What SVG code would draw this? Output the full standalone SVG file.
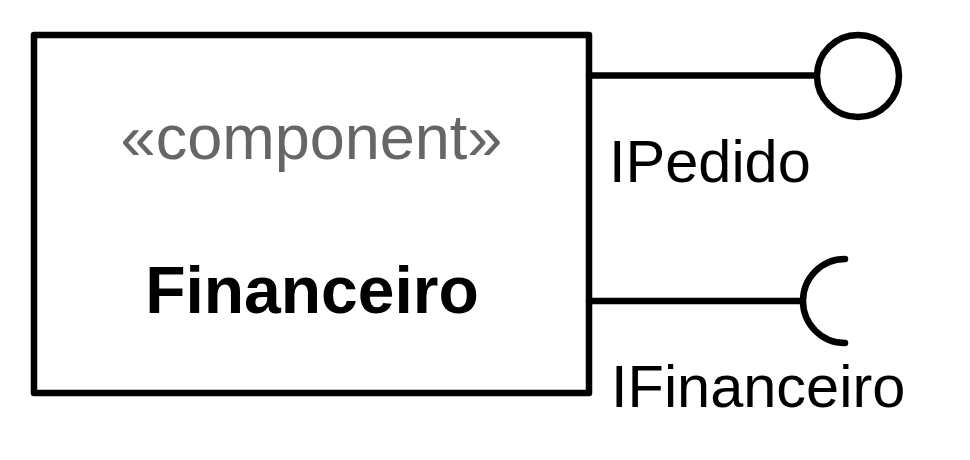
<svg xmlns="http://www.w3.org/2000/svg" width="970" height="460" viewBox="0 0 970 460">
<style>
.ln{fill:none;stroke:#000;stroke-width:6.5;stroke-linecap:round;stroke-linejoin:round}
.lbl{font-family:"Liberation Sans",Arial,sans-serif;font-size:59.5px;fill:#000}
</style>
<rect width="970" height="460" fill="#fff"/>
<g id="component-financeiro">
<rect x="34" y="35" width="555" height="358" fill="#fff" class="ln"/>
<text x="311.5" y="159" text-anchor="middle" font-family="Liberation Sans, Arial, sans-serif" font-size="63" fill="#666">«component»</text>
<text x="312" y="313" text-anchor="middle" font-family="Liberation Sans, Arial, sans-serif" font-size="66" font-weight="bold" fill="#000">Financeiro</text>
</g>
<g id="connectors">
<line x1="589" y1="75.5" x2="816" y2="75.5" class="ln"/>
<line x1="589" y1="301" x2="801" y2="301" class="ln"/>
</g>
<g id="iface-ipedido">
<circle cx="858" cy="76" r="41" fill="#fff" class="ln"/>
<text x="609" y="182" class="lbl">IPedido</text>
</g>
<g id="iface-ifinanceiro">
<path d="M845,259 A42,42 0 0 0 845,343" class="ln"/>
<text x="611" y="407" class="lbl">IFinanceiro</text>
</g>
</svg>
